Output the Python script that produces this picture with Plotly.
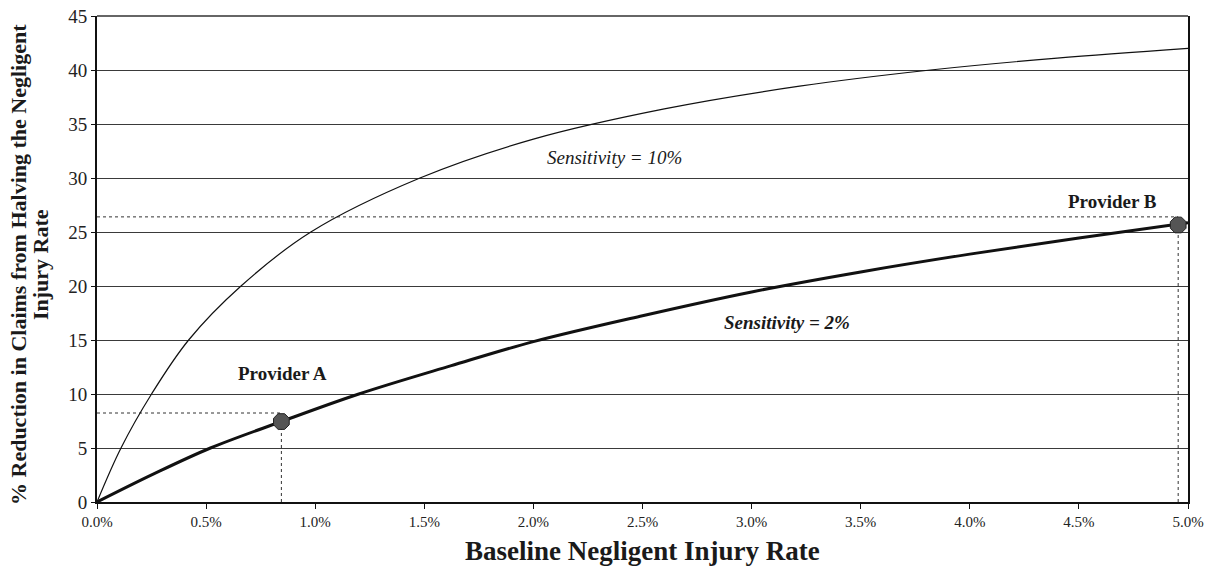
import plotly.graph_objects as go

# Baseline negligent injury rate (%) and % reduction in claims
sens10_x = [0.0, 0.11, 0.25, 0.42, 0.66, 0.98, 1.48, 2.00, 2.60, 3.22, 3.82, 4.40, 5.0]
sens10_y = [0.0, 5.0, 10.0, 15.0, 20.0, 25.0, 30.0, 33.6, 36.4, 38.5, 40.0, 41.1, 42.0]

sens2_x = [0.0, 0.26, 0.52, 0.84, 1.20, 1.62, 2.00, 2.50, 3.00, 3.50, 4.00, 4.50, 5.0]
sens2_y = [0.0, 2.6, 5.0, 7.41, 10.0, 12.6, 14.85, 17.25, 19.45, 21.3, 22.95, 24.45, 25.85]

provider_names = ["Provider A", "Provider B"]
provider_x = [0.845, 4.955]
provider_y = [7.45, 25.65]
provider_guide_y = [8.24, 26.4]

x_tick_vals = [0.0, 0.5, 1.0, 1.5, 2.0, 2.5, 3.0, 3.5, 4.0, 4.5, 5.0]
x_tick_text = ["0.0%", "0.5%", "1.0%", "1.5%", "2.0%", "2.5%", "3.0%", "3.5%", "4.0%", "4.5%", "5.0%"]
y_tick_vals = [0, 5, 10, 15, 20, 25, 30, 35, 40, 45]

FONT = "Liberation Serif, Times New Roman, serif"
INK = "#1a1a1a"

fig = go.Figure()

# dotted guide lines for providers
for px, py, gy in zip(provider_x, provider_y, provider_guide_y):
    fig.add_trace(go.Scatter(x=[0, px], y=[gy, gy], mode="lines",
                             line=dict(color="#333333", width=1, dash="dot"),
                             hoverinfo="skip", showlegend=False))
    fig.add_trace(go.Scatter(x=[px, px], y=[0, py], mode="lines",
                             line=dict(color="#333333", width=1, dash="dot"),
                             hoverinfo="skip", showlegend=False))

fig.add_trace(go.Scatter(x=sens10_x, y=sens10_y, mode="lines",
                         line=dict(color="#111111", width=1.2, shape="spline", smoothing=1.0),
                         name="Sensitivity = 10%", showlegend=False))
fig.add_trace(go.Scatter(x=sens2_x, y=sens2_y, mode="lines",
                         line=dict(color="#111111", width=3, shape="spline", smoothing=1.0),
                         name="Sensitivity = 2%", showlegend=False))

fig.add_trace(go.Scatter(x=provider_x, y=provider_y, mode="markers",
                         marker=dict(symbol="octagon", size=17, color="#555555",
                                     line=dict(color="#222222", width=1)),
                         text=provider_names, showlegend=False))

annotations = [
    dict(x=2.371, y=31.9, text="<i>Sensitivity = 10%</i>", font=dict(size=19)),
    dict(x=3.164, y=16.64, text="<b><i>Sensitivity = 2%</i></b>", font=dict(size=19)),
    dict(x=0.848, y=11.94, text="<b>Provider A</b>", font=dict(size=19)),
    dict(x=4.652, y=27.78, text="<b>Provider B</b>", font=dict(size=19)),
]
for a in annotations:
    a.update(xref="x", yref="y", showarrow=False)
    a["font"].update(family=FONT, color=INK)

# y-axis title (two lines)
annotations.append(dict(
    xref="paper", yref="paper", x=0, y=0.5, xshift=-79, yshift=-6,
    xanchor="center", yanchor="middle", textangle=-90, showarrow=False,
    text="<b>% Reduction in Claims from Halving the Negligent</b>",
    font=dict(family=FONT, size=22, color=INK)))
annotations.append(dict(
    xref="paper", yref="paper", x=0, y=0.5, xshift=-57, yshift=-6,
    xanchor="center", yanchor="middle", textangle=-90, showarrow=False,
    text="<b>Injury Rate</b>",
    font=dict(family=FONT, size=22, color=INK)))
# x-axis title
annotations.append(dict(
    xref="paper", yref="paper", x=0.5, y=0, yshift=-49,
    xanchor="center", yanchor="middle", showarrow=False,
    text="<b>Baseline Negligent Injury Rate</b>",
    font=dict(family=FONT, size=27, color=INK)))

fig.update_layout(
    width=1215, height=567,
    margin=dict(l=97, r=27, t=16, b=65, autoexpand=False),
    paper_bgcolor="white", plot_bgcolor="white",
    font=dict(family=FONT, color=INK),
    annotations=annotations,
    shapes=[dict(type="line", xref="paper", yref="paper", x0=0, x1=1, y0=1, y1=1,
                 line=dict(color="#333333", width=1.5))],
    xaxis=dict(range=[0, 5], tickmode="array", tickvals=x_tick_vals, ticktext=x_tick_text,
               showgrid=False, zeroline=False, showline=True, linecolor="#111111", linewidth=2,
               ticks="outside", ticklen=5, tickcolor="#111111", tickwidth=1, automargin=False,
               tickfont=dict(family=FONT, size=15, color="#222222")),
    yaxis=dict(range=[0, 45], tickmode="array", tickvals=y_tick_vals,
               showgrid=True, gridcolor="#3a3a3a", gridwidth=1.2, automargin=False,
               ticklabeloverflow="allow",
               zeroline=False, showline=True, mirror=True, linecolor="#111111", linewidth=2,
               ticks="outside", ticklen=4, tickcolor="#111111", tickwidth=1,
               tickfont=dict(family=FONT, size=19, color="#222222")),
)

fig.write_html("out.html", config={"displayModeBar": False},
               post_script="document.body.style.margin='0';")
